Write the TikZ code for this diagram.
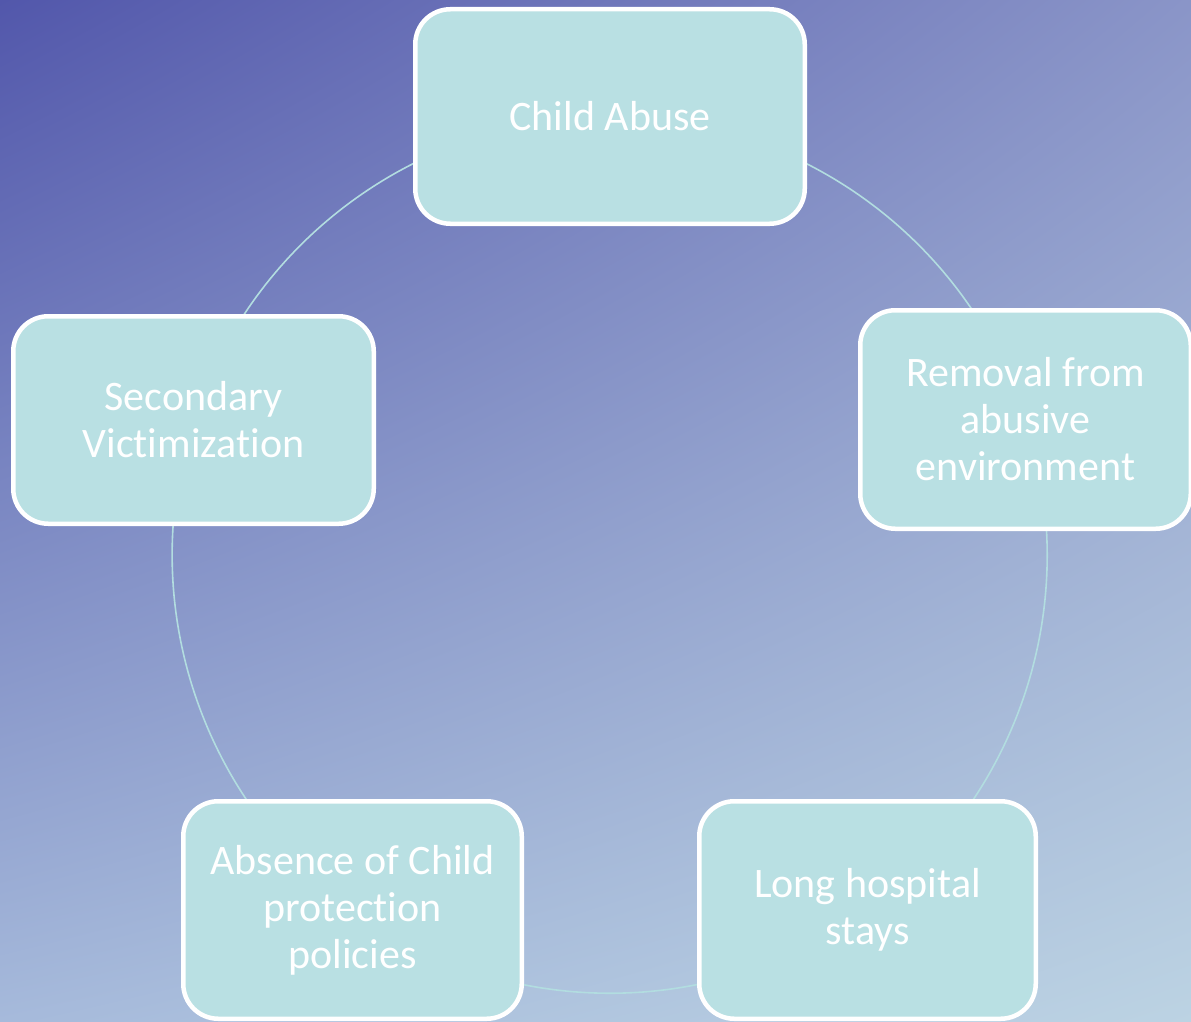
\documentclass[tikz,border=0pt]{standalone}
\usepackage{fontspec}
\setmainfont{Carlito}[Ligatures={NoCommon}]
\usetikzlibrary{shadings}
\definecolor{bgTL}{HTML}{5257AB}
\definecolor{bgTR}{HTML}{8A95C8}
\definecolor{bgBL}{HTML}{A6BADB}
\definecolor{bgBR}{HTML}{BCD3E3}
\definecolor{boxfill}{HTML}{B9E0E3}
\definecolor{arcline}{HTML}{B2DDE0}
\pgfdeclarelayer{back}
\pgfsetlayers{back,main}
\tikzset{
  cyclebox/.style={draw=white, line width=4.5pt, fill=boxfill, rounded corners=35pt,
    text=white, align=center, inner sep=0pt, outer sep=0pt,
    font=\fontsize{42}{47}\selectfont},
  cyclearc/.style={draw=arcline, line width=1.6pt, bend left=36, looseness=0.94}
}
\begin{document}
\begin{tikzpicture}[x=1pt,y=-1pt]
\useasboundingbox (0,0) rectangle (1191,1022);
\node[cyclebox, minimum width=389.5pt, minimum height=214.5pt] (ca) at (610,116.5) {Child Abuse};
\node[cyclebox, minimum width=330.5pt, minimum height=218.5pt] (rm) at (1025.5,419.5) {Removal from\\abusive\\environment};
\node[cyclebox, minimum width=336.5pt, minimum height=217.5pt] (lh) at (867.5,910) {Long hospital\\stays};
\node[cyclebox, minimum width=338.5pt, minimum height=217.5pt] (ab) at (352.5,910) {Absence of Child\\protection\\policies};
\node[cyclebox, minimum width=360.5pt, minimum height=207.5pt] (sv) at (193.5,420) {Secondary\\Victimization};
\begin{pgfonlayer}{back}
\shade[upper left=bgTL, upper right=bgTR, lower left=bgBL, lower right=bgBR] (0,0) rectangle (1191,1022);
\draw[cyclearc] (ca.center) to (rm.center);
\draw[cyclearc] (rm.center) to (lh.center);
\draw[cyclearc] (lh.center) to (ab.center);
\draw[cyclearc] (ab.center) to (sv.center);
\draw[cyclearc] (sv.center) to (ca.center);
\end{pgfonlayer}
\end{tikzpicture}
\end{document}
